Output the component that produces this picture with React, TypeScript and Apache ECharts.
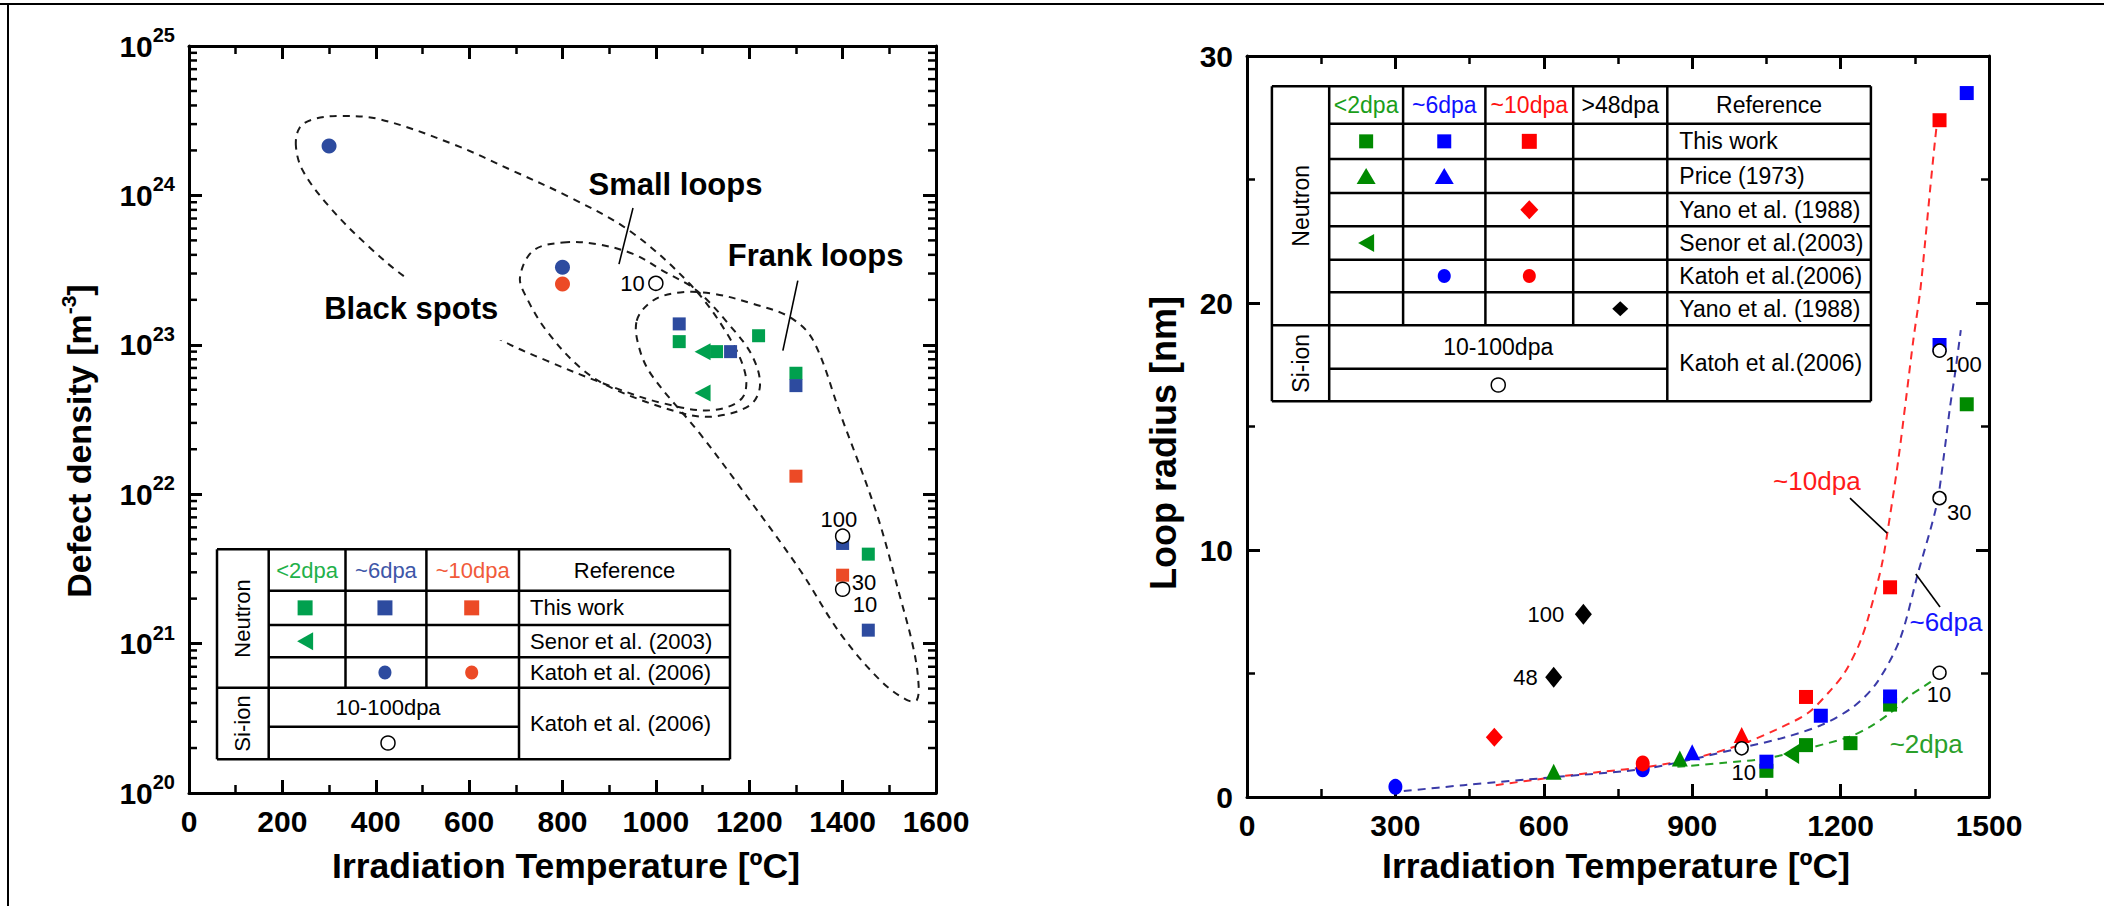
import React, { useEffect, useRef } from 'react';
import * as echarts from 'echarts';

const FONT = "'Liberation Sans', Arial, Helvetica, sans-serif";

// ---------- LEFT CHART (defect density, log scale) : [temperature °C, density m^-3]
const L_THIS_WORK_2DPA = [[1050, 1.05e23], [1130, 9.0e22], [1220, 1.15e23], [1300, 6.45e22], [1455, 3.97e21]];
const L_THIS_WORK_6DPA = [[1050, 1.38e23], [1160, 9.0e22], [1300, 5.33e22], [1400, 4.68e21], [1455, 1.23e21]];
const L_THIS_WORK_10DPA = [[1300, 1.32e22], [1400, 2.87e21]];
const L_SENOR_2DPA = [[1100, 9.0e22], [1100, 4.75e22]];
const L_KATOH_6DPA = [[300, 2.14e24], [800, 3.3e23]];
const L_KATOH_10DPA = [[800, 2.55e23]];
const L_KATOH_ION = [[1000, 2.58e23], [1400, 5.24e21], [1400, 2.31e21]];

const L_DOSE_LABELS = [
  { text: '10', x: 950, y: 2.58e23 },
  { text: '100', x: 1392, y: 6.8e21 },
  { text: '30', x: 1446, y: 2.57e21 },
  { text: '10', x: 1448, y: 1.84e21 },
];
const L_REGION_LABELS = [
  { text: 'Small loops', x: 1042, y: 1.19e24 },
  { text: 'Frank loops', x: 1342, y: 3.94e23 },
];
const L_REGION_LABELS_MASKED = [{ text: 'Black spots', x: 476, y: 1.74e23 }];
const L_LEADER_SMALL = [[951, 8.24e23], [921, 3.47e23]];
const L_LEADER_FRANK = [[1304, 2.69e23], [1272, 9.14e22]];

const L_REGION_BLACK_SPOTS = [
  [229, 2.14e24], [237, 2.84e24], [266, 3.23e24], [323, 3.40e24], [409, 3.23e24], [566, 2.20e24],
  [694, 1.46e24], [816, 9.7e23], [944, 5.79e23], [1073, 2.55e23], [1148, 1.25e23], [1191, 6.5e22],
  [1184, 4.37e22], [1116, 3.64e22], [1009, 4.11e22], [909, 5.2e22], [766, 7.83e22], [659, 1.12e23],
  [469, 2.75e23], [387, 4.48e23], [302, 8.3e23], [244, 1.46e24],
];
const L_REGION_SMALL_LOOPS = [
  [801, 4.84e23], [873, 4.72e23], [951, 4.06e23], [1015, 3.13e23], [1088, 2.30e23], [1159, 1.34e23],
  [1206, 8.47e22], [1223, 5.34e22], [1201, 3.93e22], [1122, 3.31e22], [1051, 3.52e22], [908, 5.1e22],
  [837, 7.08e22], [766, 1.24e23], [723, 2.07e23], [709, 2.83e23], [737, 4.26e23],
];
const L_REGION_FRANK_LOOPS = [
  [959, 1.45e23], [994, 1.98e23], [1052, 2.24e23], [1122, 2.20e23], [1208, 1.88e23], [1287, 1.53e23],
  [1337, 1.07e23], [1395, 3.45e22], [1473, 7.41e21], [1523, 2.06e21], [1551, 9.5e20], [1562, 5.7e20],
  [1559, 4.2e20], [1537, 4.2e20], [1480, 5.7e20], [1394, 1.18e21], [1309, 3.1e21], [1180, 1.12e22],
  [1094, 2.55e22], [994, 6.07e22], [966, 9.14e22],
];
const LOG_DECADES = [1e20, 1e21, 1e22, 1e23, 1e24];
const LOG_MINOR_MULTIPLIERS = [2, 3, 4, 5, 6, 7, 8, 9];

// ---------- RIGHT CHART (loop radius) : [temperature °C, radius nm]
const R_THIS_WORK_2DPA = [[1050, 1.06], [1130, 2.1], [1220, 2.18], [1300, 3.74], [1455, 15.9]];
const R_THIS_WORK_6DPA = [[1050, 1.43], [1160, 3.29], [1300, 4.07], [1400, 18.3], [1455, 28.5]];
const R_THIS_WORK_10DPA = [[1130, 4.05], [1300, 8.49], [1400, 27.4]];
const R_PRICE_2DPA = [[620, 1.02], [875, 1.56]];
const R_PRICE_6DPA = [[900, 1.81]];
const R_PRICE_10DPA = [[1000, 2.51]];
const R_YANO_10DPA = [[500, 2.42]];
const R_SENOR_2DPA = [[1100, 1.74]];
const R_KATOH_6DPA = [[300, 0.41], [800, 1.12]];
const R_KATOH_10DPA = [[800, 1.36]];
const R_YANO_48DPA = [[620, 4.85], [680, 7.4]];
const R_KATOH_ION = [[1000, 1.97], [1400, 5.03], [1400, 12.1], [1400, 18.07]];

const R_FIT_10DPA = [
  [503, 0.48], [624, 0.81], [716, 1.02], [809, 1.22], [902, 1.56], [995, 2.1], [1069, 2.72], [1134, 3.4],
  [1181, 4.35], [1208, 5.03], [1236, 6.11], [1255, 7.2], [1283, 9.37], [1300, 11.4], [1317, 13.7],
  [1334, 16.4], [1347, 18.5], [1361, 20.5], [1371, 22.5], [1381, 24.6], [1391, 26.6], [1396, 27.5],
];
const R_FIT_6DPA = [
  [317, 0.24], [438, 0.48], [624, 0.81], [809, 1.16], [995, 1.97], [1088, 2.42], [1162, 2.92],
  [1227, 3.67], [1273, 4.62], [1320, 6.39], [1357, 9.1], [1394, 11.8], [1408, 13.7], [1421, 15.76],
  [1431, 17.1], [1443, 18.9],
];
const R_FIT_2DPA = [
  [870, 1.22], [960, 1.38], [1050, 1.56], [1134, 1.97], [1218, 2.44], [1260, 2.85], [1300, 3.4],
  [1340, 4.1], [1370, 4.5], [1396, 4.85],
];
const R_DOSE_LABELS = [
  { text: '100', x: 604, y: 7.4 },
  { text: '48', x: 563, y: 4.85 },
  { text: '10', x: 1004, y: 0.98 },
  { text: '10', x: 1399, y: 4.17 },
  { text: '30', x: 1440, y: 11.5 },
  { text: '100', x: 1448, y: 17.5 },
];
const R_FIT_LABELS = [
  { text: '~10dpa', x: 1152, y: 12.78, color: '#ff1a1a' },
  { text: '~6dpa', x: 1413, y: 7.08, color: '#1414ff' },
  { text: '~2dpa', x: 1373, y: 2.15, color: '#2aa02a' },
];
const R_LEADER_10 = [[1219, 12.1], [1294, 10.68]];
const R_LEADER_6 = [[1352, 9.03], [1401, 7.69]];

// ---------- colours
const LG = '#00a04e', LB = '#2d4b9f', LO = '#ec4a26';
const RG = '#008a00', RB = '#0000ff', RR = '#ff0000';

function buildOption() {
  const axisLine = { show: true, onZero: false, lineStyle: { color: '#000', width: 3 } };
  const axisTick = { show: true, inside: true, length: 13, lineStyle: { color: '#000', width: 3 } };
  const minorTick = { show: true, splitNumber: 2, length: 8, lineStyle: { color: '#000', width: 2.5 } };
  const tickLabel = { fontSize: 30, fontWeight: 'bold', fontFamily: FONT, color: '#000' };
  const noLabel = { show: false };

  const valueX = (grid: number, pos: string, max: number, interval: number, labels: boolean) => ({
    type: 'value', gridIndex: grid, position: pos, min: 0, max, interval,
    axisLine, axisTick, minorTick, splitLine: { show: false }, minorSplitLine: { show: false },
    axisLabel: labels ? { ...tickLabel, margin: 13, formatter: (v: number) => String(v) } : noLabel,
  });

  const xAxis = [
    valueX(0, 'bottom', 1600, 200, true),
    valueX(0, 'top', 1600, 200, false),
    valueX(1, 'bottom', 1500, 300, true),
    valueX(1, 'top', 1500, 300, false),
  ];

  const logY = (pos: string, labels: boolean) => ({
    type: 'log', gridIndex: 0, position: pos, min: 1e20, max: 1e25, logBase: 10, splitNumber: 5,
    axisLine, axisTick, minorTick: { show: false }, splitLine: { show: false },
    axisLabel: labels
      ? {
          margin: 14,
          formatter: (v: number) => `{b|10}{s|${Math.round(Math.log10(v))}}`,
          rich: {
            b: { fontSize: 30, fontWeight: 'bold', fontFamily: FONT, color: '#000', lineHeight: 42 },
            s: { fontSize: 20, fontWeight: 'bold', fontFamily: FONT, color: '#000', lineHeight: 20, verticalAlign: 'top' },
          },
        }
      : noLabel,
  });
  const linY = (pos: string, labels: boolean) => ({
    type: 'value', gridIndex: 1, position: pos, min: 0, max: 30, interval: 10,
    axisLine, axisTick, minorTick, splitLine: { show: false }, minorSplitLine: { show: false },
    axisLabel: labels ? { ...tickLabel, margin: 14, formatter: (v: number) => String(v) } : noLabel,
  });
  const yAxis = [logY('left', true), logY('right', false), linY('left', true), linY('right', false)];

  const L = { xAxisIndex: 0, yAxisIndex: 0 };
  const R = { xAxisIndex: 2, yAxisIndex: 2 };

  const scatter = (ax: any, name: string, data: number[][], symbol: string, size: any, color: string, extra: any = {}) => ({
    type: 'scatter', name, ...ax, data, symbol, symbolSize: size, itemStyle: { color, opacity: 1 }, z: 5, silent: true, ...extra,
  });
  const openCircles = (ax: any, name: string, data: number[][], size: number) => ({
    type: 'scatter', name, ...ax, data, symbol: 'circle', symbolSize: size, silent: true, z: 6,
    itemStyle: { color: '#fff', borderColor: '#000', borderWidth: 1.5, opacity: 1 },
  });
  // annotation texts placed in data coordinates
  const textSeries = (ax: any, items: any[], style: any) => ({
    type: 'custom', ...ax, silent: true, z: 8, clip: false,
    data: items.map((a) => [a.x, a.y]),
    renderItem: (params: any, api: any) => {
      const a = items[params.dataIndex];
      const p = api.coord([api.value(0), api.value(1)]);
      return {
        type: 'text', x: p[0], y: p[1],
        style: {
          text: a.text, fill: a.color || '#000', fontFamily: FONT, align: 'center', verticalAlign: 'middle',
          ...style,
        },
      };
    },
  });
  const leader = (ax: any, data: number[][]) => ({
    type: 'line', ...ax, data, symbol: 'none', silent: true, z: 4, lineStyle: { color: '#000', width: 1.6, type: 'solid' },
  });
  const region = (pts: number[][]) => ({
    type: 'custom', ...L, silent: true, z: 3, clip: false,
    data: [pts[0]],
    renderItem: (_p: any, api: any) => ({
      type: 'polygon',
      shape: { points: pts.map((p) => api.coord(p)), smooth: 0.35 },
      style: { fill: 'none', stroke: '#1a1a1a', lineWidth: 2, lineDash: [7, 6] },
    }),
  });
  const fit = (data: number[][], color: string) => ({
    type: 'line', ...R, data, symbol: 'none', smooth: 0.3, silent: true, z: 3,
    lineStyle: { color, width: 2, type: [8, 6] },
  });

  const minorLogTicks: number[][] = [];
  LOG_DECADES.forEach((d) => LOG_MINOR_MULTIPLIERS.forEach((m) => minorLogTicks.push([0, m * d])));

  const series: any[] = [
    // left chart
    region(L_REGION_BLACK_SPOTS),
    region(L_REGION_SMALL_LOOPS),
    region(L_REGION_FRANK_LOOPS),
    leader(L, L_LEADER_SMALL),
    leader(L, L_LEADER_FRANK),
    {
      type: 'custom', ...L, silent: true, z: 10, clip: false,
      data: minorLogTicks,
      renderItem: (params: any, api: any) => {
        const cs = params.coordSys;
        const y = api.coord([0, api.value(1)])[1];
        return {
          type: 'group',
          children: [
            { type: 'line', shape: { x1: cs.x, y1: y, x2: cs.x + 8, y2: y }, style: { stroke: '#000', lineWidth: 2.5 } },
            { type: 'line', shape: { x1: cs.x + cs.width - 8, y1: y, x2: cs.x + cs.width, y2: y }, style: { stroke: '#000', lineWidth: 2.5 } },
          ],
        };
      },
    },
    scatter(L, 'This work <2dpa', L_THIS_WORK_2DPA, 'rect', 13, LG),
    scatter(L, 'This work ~6dpa', L_THIS_WORK_6DPA, 'rect', 13, LB),
    scatter(L, 'This work ~10dpa', L_THIS_WORK_10DPA, 'rect', 13, LO),
    scatter(L, 'Senor <2dpa', L_SENOR_2DPA, 'triangle', [17, 16], LG, { symbolRotate: 90 }),
    scatter(L, 'Katoh ~6dpa', L_KATOH_6DPA, 'circle', 15, LB),
    scatter(L, 'Katoh ~10dpa', L_KATOH_10DPA, 'circle', 15, LO),
    openCircles(L, 'Katoh Si-ion', L_KATOH_ION, 14),
    textSeries(L, L_DOSE_LABELS, { fontSize: 22 }),
    textSeries(L, L_REGION_LABELS, { fontSize: 31, fontWeight: 'bold' }),
    textSeries(L, L_REGION_LABELS_MASKED, {
      fontSize: 31, fontWeight: 'bold', backgroundColor: '#fff', padding: [16, 4, 16, 4],
    }),
    // right chart
    fit(R_FIT_10DPA, '#ff2a2a'),
    fit(R_FIT_6DPA, '#3a3aa8'),
    fit(R_FIT_2DPA, '#24a024'),
    leader(R, R_LEADER_10),
    leader(R, R_LEADER_6),
    scatter(R, 'This work <2dpa', R_THIS_WORK_2DPA, 'rect', 14, RG),
    scatter(R, 'Price <2dpa', R_PRICE_2DPA, 'triangle', [16, 16], RG),
    scatter(R, 'Senor <2dpa', R_SENOR_2DPA, 'triangle', [20, 16], RG, { symbolRotate: 90 }),
    scatter(R, 'This work ~6dpa', R_THIS_WORK_6DPA, 'rect', 14, RB),
    scatter(R, 'Price ~6dpa', R_PRICE_6DPA, 'triangle', [16, 16], RB),
    scatter(R, 'Katoh ~6dpa', R_KATOH_6DPA, 'circle', [14, 16], RB),
    scatter(R, 'This work ~10dpa', R_THIS_WORK_10DPA, 'rect', 14, RR),
    scatter(R, 'Price ~10dpa', R_PRICE_10DPA, 'triangle', [16, 16], RR),
    scatter(R, 'Yano ~10dpa', R_YANO_10DPA, 'diamond', [17, 19], RR),
    scatter(R, 'Katoh ~10dpa', R_KATOH_10DPA, 'circle', [14, 16], RR),
    scatter(R, 'Yano >48dpa', R_YANO_48DPA, 'diamond', [17, 21], '#000'),
    openCircles(R, 'Katoh Si-ion', R_KATOH_ION, 13),
    textSeries(R, R_DOSE_LABELS, { fontSize: 22 }),
    textSeries(R, R_FIT_LABELS, { fontSize: 26 }),
  ];

  return {
    animation: false,
    backgroundColor: '#fff',
    grid: [
      { left: 189, top: 46, width: 747, height: 747, containLabel: false, outerBoundsMode: 'none' },
      { left: 1247, top: 56, width: 742, height: 741, containLabel: false, outerBoundsMode: 'none' },
    ],
    xAxis,
    yAxis,
    series,
    graphic: buildGraphics(),
  };
}

// ---------------- graphic helpers (tables, titles, frame)
const gl = (x1: number, y1: number, x2: number, y2: number, w = 2.5) => ({
  type: 'line', silent: true, z: 100, shape: { x1, y1, x2, y2 }, style: { stroke: '#000', lineWidth: w },
});
const gt = (x: number, y: number, text: string, o: any = {}) => ({
  type: 'text', silent: true, z: 101, x, y, rotation: o.rot || 0,
  style: {
    text, fontSize: o.size || 22, fontFamily: FONT, fontWeight: o.bold ? 'bold' : 'normal', fill: o.fill || '#000',
    align: o.align || 'center', verticalAlign: 'middle', textAlign: o.align || 'center', textVerticalAlign: 'middle',
    ...(o.rich ? { rich: o.rich, lineHeight: o.lineHeight } : {}),
  },
});
const gSq = (cx: number, cy: number, c: string, w = 15, h = 15) => ({
  type: 'rect', silent: true, z: 101, shape: { x: cx - w / 2, y: cy - h / 2, width: w, height: h }, style: { fill: c },
});
const gCirc = (cx: number, cy: number, c: string, r = 7) => ({
  type: 'ellipse', silent: true, z: 101, shape: { cx, cy, rx: r, ry: r + 0.5 }, style: { fill: c },
});
const gOpen = (cx: number, cy: number, r = 7) => ({
  type: 'circle', silent: true, z: 101, shape: { cx, cy, r }, style: { fill: '#fff', stroke: '#000', lineWidth: 1.5 },
});
const gPoly = (pts: number[][], c: string) => ({ type: 'polygon', silent: true, z: 101, shape: { points: pts }, style: { fill: c } });
const gTriUp = (cx: number, cy: number, c: string, w = 17, h = 16) =>
  gPoly([[cx, cy - h / 2], [cx + w / 2, cy + h / 2], [cx - w / 2, cy + h / 2]], c);
const gTriLeft = (cx: number, cy: number, c: string, w = 16, h = 18) =>
  gPoly([[cx - w / 2, cy], [cx + w / 2, cy - h / 2], [cx + w / 2, cy + h / 2]], c);
const gDia = (cx: number, cy: number, c: string, w = 18, h = 19) =>
  gPoly([[cx, cy - h / 2], [cx + w / 2, cy], [cx, cy + h / 2], [cx - w / 2, cy]], c);

function buildGraphics() {
  const els: any[] = [];
  // page frame
  els.push(gl(0, 4, 2104, 4, 2), gl(8, 4, 8, 906, 2));

  // axis titles
  const supRich = { s: { fontSize: 21, fontWeight: 'bold', fontFamily: FONT, fill: '#000', lineHeight: 21, verticalAlign: 'top' } };
  els.push(gt(79, 441, 'Defect density [m{s|-3}]', { size: 34, bold: true, rot: Math.PI / 2, rich: supRich, lineHeight: 42 }));
  els.push(gt(1163, 443, 'Loop radius [nm]', { size: 36, bold: true, rot: Math.PI / 2 }));
  els.push(gt(566, 866, 'Irradiation Temperature [ºC]', { size: 35.5, bold: true }));
  els.push(gt(1616, 866, 'Irradiation Temperature [ºC]', { size: 35.5, bold: true }));

  // ---- left table
  {
    const c = [217, 268.7, 345.5, 426.4, 519, 730];
    const r = [549.3, 590.7, 625, 657.3, 687.7, 726.7, 759.3];
    els.push(gl(c[0], r[0], c[5], r[0]), gl(c[0], r[6], c[5], r[6]), gl(c[0], r[0], c[0], r[6]), gl(c[5], r[0], c[5], r[6]));
    els.push(gl(c[1], r[0], c[1], r[6]), gl(c[4], r[0], c[4], r[6]));
    els.push(gl(c[2], r[0], c[2], r[4]), gl(c[3], r[0], c[3], r[4]));
    [1, 2, 3].forEach((i) => els.push(gl(c[1], r[i], c[5], r[i])));
    els.push(gl(c[0], r[4], c[5], r[4]));
    els.push(gl(c[1], r[5], c[4], r[5]));
    const cx = (i: number) => (c[i] + c[i + 1]) / 2;
    const cy = (i: number) => (r[i] + r[i + 1]) / 2;
    els.push(gt(cx(0), (r[0] + r[4]) / 2, 'Neutron', { rot: Math.PI / 2 }));
    els.push(gt(cx(0), (r[4] + r[6]) / 2, 'Si-ion', { rot: Math.PI / 2 }));
    els.push(gt(cx(1), cy(0), '<2dpa', { fill: '#1fb14a' }));
    els.push(gt(cx(2), cy(0), '~6dpa', { fill: '#3e56a8' }));
    els.push(gt(cx(3), cy(0), '~10dpa', { fill: '#f15a3a' }));
    els.push(gt(cx(4), cy(0), 'Reference'));
    const tx = c[4] + 11;
    els.push(gt(tx, cy(1), 'This work', { align: 'left' }));
    els.push(gt(tx, cy(2), 'Senor et al. (2003)', { align: 'left' }));
    els.push(gt(tx, cy(3), 'Katoh et al. (2006)', { align: 'left' }));
    els.push(gt(tx, (r[4] + r[6]) / 2, 'Katoh et al. (2006)', { align: 'left' }));
    els.push(gt(388, cy(4), '10-100dpa'));
    els.push(gOpen(388, cy(5), 7));
    els.push(gSq(cx(1) - 2, cy(1), LG), gSq(cx(2) - 1, cy(1), LB), gSq(cx(3) - 1, cy(1), LO));
    els.push(gTriLeft(cx(1) - 2, cy(2), LG));
    els.push(gCirc(cx(2) - 1, cy(3), LB, 6.5), gCirc(cx(3) - 1, cy(3), LO, 6.5));
  }

  // ---- right table
  {
    const c = [1271.9, 1329.2, 1403.1, 1485.4, 1573.2, 1667.3, 1870.9];
    const r = [86.3, 123.7, 159, 193, 226.3, 259.7, 292.3, 325.3, 368.7, 401.3];
    els.push(gl(c[0], r[0], c[6], r[0]), gl(c[0], r[9], c[6], r[9]), gl(c[0], r[0], c[0], r[9]), gl(c[6], r[0], c[6], r[9]));
    els.push(gl(c[1], r[0], c[1], r[9]), gl(c[5], r[0], c[5], r[9]));
    [2, 3, 4].forEach((i) => els.push(gl(c[i], r[0], c[i], r[7])));
    [1, 2, 3, 4, 5, 6].forEach((i) => els.push(gl(c[1], r[i], c[6], r[i])));
    els.push(gl(c[0], r[7], c[6], r[7]));
    els.push(gl(c[1], r[8], c[5], r[8]));
    const cx = (i: number) => (c[i] + c[i + 1]) / 2;
    const cy = (i: number) => (r[i] + r[i + 1]) / 2;
    const S = 23;
    els.push(gt(cx(0), (r[0] + r[7]) / 2, 'Neutron', { rot: Math.PI / 2, size: S }));
    els.push(gt(cx(0), (r[7] + r[9]) / 2, 'Si-ion', { rot: Math.PI / 2, size: S }));
    els.push(gt(cx(1), cy(0), '<2dpa', { fill: '#1a9e1a', size: S }));
    els.push(gt(cx(2), cy(0), '~6dpa', { fill: '#1010ff', size: S }));
    els.push(gt(cx(3), cy(0), '~10dpa', { fill: '#ff1010', size: S }));
    els.push(gt(cx(4), cy(0), '>48dpa', { size: S }));
    els.push(gt(cx(5), cy(0), 'Reference', { size: S }));
    const tx = c[5] + 12;
    els.push(gt(tx, cy(1), 'This work', { align: 'left', size: S }));
    els.push(gt(tx, cy(2), 'Price (1973)', { align: 'left', size: S }));
    els.push(gt(tx, cy(3), 'Yano et al. (1988)', { align: 'left', size: S }));
    els.push(gt(tx, cy(4), 'Senor et al.(2003)', { align: 'left', size: S }));
    els.push(gt(tx, cy(5), 'Katoh et al.(2006)', { align: 'left', size: S }));
    els.push(gt(tx, cy(6), 'Yano et al. (1988)', { align: 'left', size: S }));
    els.push(gt(tx, (r[7] + r[9]) / 2, 'Katoh et al.(2006)', { align: 'left', size: S }));
    els.push(gt((c[1] + c[5]) / 2, cy(7), '10-100dpa', { size: S }));
    els.push(gOpen((c[1] + c[5]) / 2, cy(8), 7));
    els.push(gSq(cx(1), cy(1), RG, 14, 14), gSq(cx(2), cy(1), RB, 14, 14), gSq(cx(3), cy(1), RR, 15, 15));
    els.push(gTriUp(cx(1), cy(2), RG, 19, 16), gTriUp(cx(2), cy(2), RB, 19, 16));
    els.push(gDia(cx(3), cy(3), RR, 18, 19));
    els.push(gTriLeft(cx(1), cy(4), RG, 16, 18));
    els.push(gCirc(cx(2), cy(5), RB, 6.5), gCirc(cx(3), cy(5), RR, 6.5));
    els.push(gDia(cx(4), cy(6), '#000', 16, 15));
  }
  return els;
}

export default function App() {
  const ref = useRef<HTMLDivElement>(null);
  useEffect(() => {
    if (!ref.current) return;
    const chart = echarts.init(ref.current, null, { renderer: 'svg' });
    chart.setOption(buildOption() as any);
    return () => chart.dispose();
  }, []);
  return (
    <div
      ref={ref}
      style={{ position: 'absolute', left: 0, top: 0, width: 2104, height: 906, background: '#fff' }}
    />
  );
}
